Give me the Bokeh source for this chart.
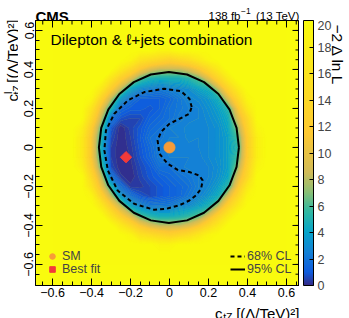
import numpy as np
from bokeh.plotting import figure
from bokeh.layouts import column, row
from bokeh.models import (LinearColorMapper, ColorBar, Label, Range1d,
                          FixedTicker, Legend, LegendItem)
from bokeh.embed import file_html
from bokeh.resources import INLINE

# ---------------- data ----------------
sm_x = [0.0]
sm_y = [0.0]
bf_x = [-0.223]
bf_y = [-0.05]

cl68_x = [0.114, 0.102, 0.059, -0.027, -0.129, -0.214, -0.283, -0.326, -0.334, -0.316, -0.266, -0.181,
          -0.078, -0.018, 0.050, 0.102, 0.136, 0.162, 0.170, 0.153, 0.102, 0.042, -0.009, -0.052,
          -0.061, -0.044, -0.001, 0.068, 0.102, 0.114]
cl68_y = [0.207, 0.250, 0.289, 0.301, 0.284, 0.241, 0.173, 0.087, -0.015, -0.118, -0.221, -0.289,
          -0.320, -0.315, -0.297, -0.272, -0.246, -0.212, -0.169, -0.144, -0.126, -0.115, -0.084, -0.032,
          0.036, 0.079, 0.121, 0.155, 0.173, 0.207]

cl95_x = [0.356, 0.344, 0.308, 0.251, 0.177, 0.090, -0.003, -0.096, -0.183, -0.257, -0.314, -0.350,
          -0.362, -0.350, -0.314, -0.257, -0.183, -0.096, -0.003, 0.090, 0.177, 0.251, 0.308, 0.344, 0.356]
cl95_y = [0.0, 0.100, 0.194, 0.274, 0.335, 0.374, 0.387, 0.374, 0.335, 0.274, 0.194, 0.100,
          0.0, -0.100, -0.194, -0.274, -0.335, -0.374, -0.387, -0.374, -0.335, -0.274, -0.194, -0.100, 0.0]

# -2 Delta lnL read on a 0.05 grid (rows: c_tZ^I from -0.6 to 0.6; columns: c_tZ from -0.6 to 0.6)
x_nodes = [-0.6, -0.55, -0.5, -0.45, -0.4, -0.35, -0.3, -0.25, -0.2, -0.15, -0.1, -0.05, 0.0,
           0.05, 0.1, 0.15, 0.2, 0.25, 0.3, 0.35, 0.4, 0.45, 0.5, 0.55, 0.6]
y_nodes = [-0.6, -0.55, -0.5, -0.45, -0.4, -0.35, -0.3, -0.25, -0.2, -0.15, -0.1, -0.05, 0.0,
           0.05, 0.1, 0.15, 0.2, 0.25, 0.3, 0.35, 0.4, 0.45, 0.5, 0.55, 0.6]
nll = [
    [20, 20, 20, 20, 20, 20, 20, 20, 20, 20, 20, 20, 20, 20, 20, 20, 20, 20, 20, 20, 20, 20, 20, 20, 20],
    [20, 20, 20, 20, 20, 20, 20, 20, 20, 20, 20, 20, 20, 20, 20, 20, 20, 20, 20, 20, 20, 20, 20, 20, 20],
    [20, 20, 20, 20, 20, 20, 20, 20, 20, 20, 20, 19, 19, 20, 20, 20, 20, 20, 20, 20, 20, 20, 20, 20, 20],
    [20, 20, 20, 20, 20, 20, 20, 20, 19, 16, 15, 14, 13, 14, 15, 17, 19, 20, 20, 20, 20, 20, 20, 20, 20],
    [20, 20, 20, 20, 20, 20, 20, 17, 14, 11, 9, 8, 8, 8, 9, 11, 14, 17, 20, 20, 20, 20, 20, 20, 20],
    [20, 20, 20, 20, 20, 20, 16, 12, 9, 5.7, 4.8, 4.2, 4.2, 4.5, 5.1, 6.0, 9, 13, 17, 20, 20, 20, 20, 20, 20],
    [20, 20, 20, 20, 20, 17, 12, 8, 3.9, 2.7, 2.1, 2.1, 2.1, 2.7, 2.9, 3.7, 4.6, 8, 13, 17, 20, 20, 20, 20, 20],
    [20, 20, 20, 20, 19, 13, 8, 3.3, 1.8, 0.9, 0.6, 0.9, 1.2, 1.5, 2.1, 2.6, 3.3, 4.3, 9, 14, 19, 20, 20, 20, 20],
    [20, 20, 20, 20, 16, 10, 4.8, 1.5, 0.3, 0.3, 0.6, 0.9, 1.2, 1.5, 1.8, 2.4, 2.8, 3.6, 5.0, 11, 17, 20, 20, 20, 20],
    [20, 20, 20, 20, 14, 8, 1.8, 0.3, 0.0, 0.5, 0.9, 1.2, 1.5, 1.8, 2.1, 2.4, 2.6, 3.1, 4.0, 9, 14, 20, 20, 20, 20],
    [20, 20, 20, 18, 12, 6.0, 0.6, 0.0, 0.1, 0.6, 1.0, 1.8, 1.8, 2.3, 2.5, 2.5, 2.6, 3.0, 3.7, 7, 13, 19, 20, 20, 20],
    [20, 20, 20, 17, 11, 4.8, 0.4, 0.0, 0.2, 0.8, 1.4, 2.2, 2.4, 2.4, 2.4, 2.5, 2.8, 3.1, 3.7, 5.7, 12, 18, 20, 20, 20],
    [20, 20, 20, 17, 11, 4.2, 0.4, 0.0, 0.3, 0.9, 1.5, 2.3, 2.5, 2.5, 2.5, 2.6, 2.8, 3.1, 3.7, 5.1, 12, 18, 20, 20, 20],
    [20, 20, 20, 17, 11, 4.8, 0.6, 0.0, 0.4, 1.0, 1.8, 2.1, 2.4, 2.4, 2.7, 2.6, 2.8, 3.1, 3.7, 5.7, 12, 18, 20, 20, 20],
    [20, 20, 20, 18, 12, 6.0, 0.9, 0.0, 0.5, 0.9, 1.5, 1.8, 2.4, 2.5, 2.7, 2.7, 2.8, 3.1, 4.0, 7, 13, 19, 20, 20, 20],
    [20, 20, 20, 20, 14, 8, 1.8, 0.8, 0.6, 0.6, 1.2, 1.5, 1.8, 2.3, 2.5, 2.6, 2.9, 3.4, 4.3, 9, 14, 20, 20, 20, 20],
    [20, 20, 20, 20, 16, 10, 4.8, 1.5, 1.1, 1.1, 0.9, 1.2, 1.8, 2.1, 2.4, 2.6, 3.1, 3.7, 5.0, 11, 17, 20, 20, 20, 20],
    [20, 20, 20, 20, 19, 13, 8, 3.3, 1.8, 1.2, 1.2, 1.2, 1.5, 2.1, 2.7, 2.9, 3.4, 4.4, 9, 14, 19, 20, 20, 20, 20],
    [20, 20, 20, 20, 20, 17, 12, 8, 3.9, 2.7, 2.4, 2.1, 2.4, 2.7, 3.0, 3.8, 4.5, 8, 13, 17, 20, 20, 20, 20, 20],
    [20, 20, 20, 20, 20, 20, 16, 12, 9, 5.7, 4.5, 4.2, 4.2, 4.2, 4.8, 6.0, 9, 13, 17, 20, 20, 20, 20, 20, 20],
    [20, 20, 20, 20, 20, 20, 20, 17, 14, 11, 9, 8, 8, 8, 9, 11, 14, 17, 20, 20, 20, 20, 20, 20, 20],
    [20, 20, 20, 20, 20, 20, 20, 20, 19, 16, 15, 14, 13, 14, 15, 17, 19, 20, 20, 20, 20, 20, 20, 20, 20],
    [20, 20, 20, 20, 20, 20, 20, 20, 20, 20, 20, 19, 19, 20, 20, 20, 20, 20, 20, 20, 20, 20, 20, 20, 20],
    [20, 20, 20, 20, 20, 20, 20, 20, 20, 20, 20, 20, 20, 20, 20, 20, 20, 20, 20, 20, 20, 20, 20, 20, 20],
    [20, 20, 20, 20, 20, 20, 20, 20, 20, 20, 20, 20, 20, 20, 20, 20, 20, 20, 20, 20, 20, 20, 20, 20, 20],
]

x_ticks = [-0.6, -0.4, -0.2, 0.0, 0.2, 0.4, 0.6]
y_ticks = [-0.6, -0.4, -0.2, 0.0, 0.2, 0.4, 0.6]
minor_ticks = [-0.65, -0.6, -0.55, -0.5, -0.45, -0.4, -0.35, -0.3, -0.25, -0.2, -0.15, -0.1, -0.05, 0.0,
               0.05, 0.1, 0.15, 0.2, 0.25, 0.3, 0.35, 0.4, 0.45, 0.5, 0.55, 0.6, 0.65]
tick_labels = {-0.6: "\u22120.6", -0.4: "\u22120.4", -0.2: "\u22120.2", 0.0: "0", 0.2: "0.2", 0.4: "0.4", 0.6: "0.6"}
z_ticks = [0, 2, 4, 6, 8, 10, 12, 14, 16, 18, 20]

# ---------------- style ----------------
bird = [(0.2082, 0.1664, 0.5293), (0.0592, 0.3599, 0.8684), (0.0780, 0.5041, 0.8385),
        (0.0232, 0.6419, 0.7914), (0.1802, 0.7178, 0.6425), (0.5301, 0.7492, 0.4662),
        (0.8186, 0.7328, 0.3499), (0.9956, 0.7862, 0.1968), (0.9764, 0.9832, 0.0539)]
stop_v = [0, 1.0, 2.5, 4.0, 5.5, 7.0, 8.5, 11.5, 20]


def bird_color(v):
    c = [np.interp(v, stop_v, [b[i] for b in bird]) for i in range(3)]
    return "#%02x%02x%02x" % tuple(int(round(255 * t)) for t in c)


palette = [bird_color(v) for v in np.linspace(0, 20, 256)]
mapper = LinearColorMapper(palette=palette, low=0, high=20)
levels = [float(v) for v in np.linspace(0, 20, 101)]
levels[0] = -0.01
band_colors = [bird_color(0.5 * (levels[i] + levels[i + 1])) for i in range(len(levels) - 1)]
level_colors = [bird_color(l) for l in levels]

FONT = "Liberation Sans"
X0, X1 = -0.6872, 0.6667
Y0, Y1 = -0.708, 0.651
FW, FH = 264, 265
KX = (X1 - X0) / FW
KY = (Y1 - Y0) / FH
LEFT_W, RIGHT_W, TOP_H = 18, 50, 20
AX_L, AX_B = 17, 17
MAIN_W = AX_L + FW
MAIN_H = FH + AX_B
BOTTOM_H = 318 - TOP_H - MAIN_H

p = figure(width=MAIN_W, height=MAIN_H, x_range=Range1d(X0, X1), y_range=Range1d(Y0, Y1),
           output_backend="svg", toolbar_location=None, title_location=None,
           min_border_left=AX_L, min_border_right=0, min_border_top=0, min_border_bottom=AX_B)
p.grid.visible = False
p.background_fill_color = palette[-1]
p.border_fill_color = "white"
p.outline_line_color = "black"
p.outline_line_width = 1

p.contour(x_nodes, y_nodes, np.array(nll, dtype=float), levels=levels,
          fill_color=band_colors, line_color=level_colors, line_width=0.8)

for ax in (p.xaxis[0], p.yaxis[0]):
    ax.ticker = FixedTicker(ticks=x_ticks, minor_ticks=minor_ticks)
    ax.major_tick_in = 7
    ax.major_tick_out = 0
    ax.minor_tick_in = 4
    ax.minor_tick_out = 0
    ax.major_tick_line_color = "black"
    ax.minor_tick_line_color = "black"
    ax.axis_line_color = "black"
    ax.major_label_overrides = tick_labels
    ax.major_label_text_font = FONT
    ax.major_label_text_font_size = "12.5px"
    ax.major_label_text_color = "black"
    ax.major_label_standoff = 2
p.yaxis[0].major_label_orientation = "vertical"

# tick marks on the top and right frame edges, at the same tick values
nmaj, nmin = len(x_ticks), len(minor_ticks)
p.segment(x0=x_ticks, y0=[Y1] * nmaj, x1=x_ticks, y1=[Y1 - 7 * KY] * nmaj, line_color="black", line_width=1)
p.segment(x0=minor_ticks, y0=[Y1] * nmin, x1=minor_ticks, y1=[Y1 - 4 * KY] * nmin, line_color="black", line_width=1)
p.segment(x0=[X1] * nmaj, y0=y_ticks, x1=[X1 - 7 * KX] * nmaj, y1=y_ticks, line_color="black", line_width=1)
p.segment(x0=[X1] * nmin, y0=minor_ticks, x1=[X1 - 4 * KX] * nmin, y1=minor_ticks, line_color="black", line_width=1)

# contours and points
r68 = p.line(cl68_x, cl68_y, line_color="black", line_width=2, line_dash="4 3")
r95 = p.line(cl95_x, cl95_y, line_color="black", line_width=2)
rsm = p.scatter(sm_x, sm_y, marker="circle", size=11, fill_color="#f79c38", line_color="#f79c38")
rbf = p.scatter(bf_x, bf_y, marker="square", angle=np.pi / 4, size=8, fill_color="#f23a3a",
                line_color="#f23a3a")


def leg(label, rend, loc, gw, standoff):
    p.add_layout(Legend(items=[LegendItem(label=label, renderers=[rend])], location=loc,
                        background_fill_alpha=0, border_line_color=None, label_text_font=FONT,
                        label_text_font_size="12.5px", glyph_width=gw, glyph_height=16, label_height=16,
                        spacing=0, padding=0, margin=0, label_standoff=standoff))


leg("SM", rsm, (10, 21), 14, 3)
leg("Best fit", rbf, (10, 8), 14, 3)
leg("68% CL", r68, (195, 21), 15, 2)
leg("95% CL", r95, (195, 8), 15, 2)


def lab(fig, text, x, y, size, align="left", baseline="alphabetic", angle=0.0, style="normal"):
    fig.add_layout(Label(x=x, y=y, text=text, text_font=FONT, text_font_size="%.1fpx" % size,
                         text_align=align, text_baseline=baseline, angle=angle, text_font_style=style,
                         text_color="black"))


# inside the frame (page pixel -> data)
lab(p, "Dilepton & \u2113+jets combination", X0 + (50 - 35) * KX, Y1 - (38.5 - 20) * KY, 15.5)


def strip(w, h, xr, yr):
    f = figure(width=w, height=h, x_range=Range1d(*xr), y_range=Range1d(*yr), output_backend="svg",
               toolbar_location=None, title_location=None, min_border=0,
               x_axis_type=None, y_axis_type=None)
    f.grid.visible = False
    f.outline_line_color = None
    f.background_fill_color = "white"
    f.border_fill_color = "white"
    return f


# strips use page-pixel coordinates
top = strip(349, TOP_H, (0, 349), (TOP_H, 0))
lab(top, "CMS", 35, 16, 15, style="bold")
lab(top, "138 fb", 240, 15, 11.5, align="right")
lab(top, "\u22121", 240.5, 10, 8.5)
lab(top, "(13 TeV)", 299, 15, 11.5, align="right")

left = strip(LEFT_W, MAIN_H, (0, LEFT_W), (TOP_H + MAIN_H, TOP_H))
lab(left, "[(\u039b/TeV)\u00b2]", 11.5, 52.5, 15, align="center", baseline="middle", angle=np.pi / 2)
lab(left, "tZ", 16.1, 93.9, 10.5, align="center", baseline="middle", angle=np.pi / 2)
lab(left, "I", 7.1, 97, 10.5, align="center", baseline="middle", angle=np.pi / 2)
lab(left, "c", 11.5, 102.3, 15, align="center", baseline="middle", angle=np.pi / 2)

right = strip(RIGHT_W, MAIN_H, (299, 349), (TOP_H + MAIN_H, TOP_H))
cb = ColorBar(color_mapper=mapper, ticker=FixedTicker(ticks=z_ticks), width=10, height=FH,
              location=(4, 0), padding=0, margin=0, label_standoff=4,
              major_tick_in=4, major_tick_out=0, major_tick_line_color="black",
              bar_line_color="black", major_label_text_font=FONT,
              major_label_text_font_size="12.5px", border_line_color=None,
              background_fill_alpha=0)
right.add_layout(cb)
lab(right, "\u22122 \u0394 ln L", 337, 57, 15.5, align="center", baseline="middle", angle=-np.pi / 2)

bottom = strip(349, BOTTOM_H, (0, 349), (318, 318 - BOTTOM_H))
lab(bottom, "[(\u039b/TeV)\u00b2]", 299, 313, 15, align="right")
lab(bottom, "tZ", 232, 316.5, 10.5, align="right")
lab(bottom, "c", 222, 313, 15, align="right")

layout = column(top, row(left, p, right), bottom)
open("out.html", "w").write(file_html(layout, INLINE))
